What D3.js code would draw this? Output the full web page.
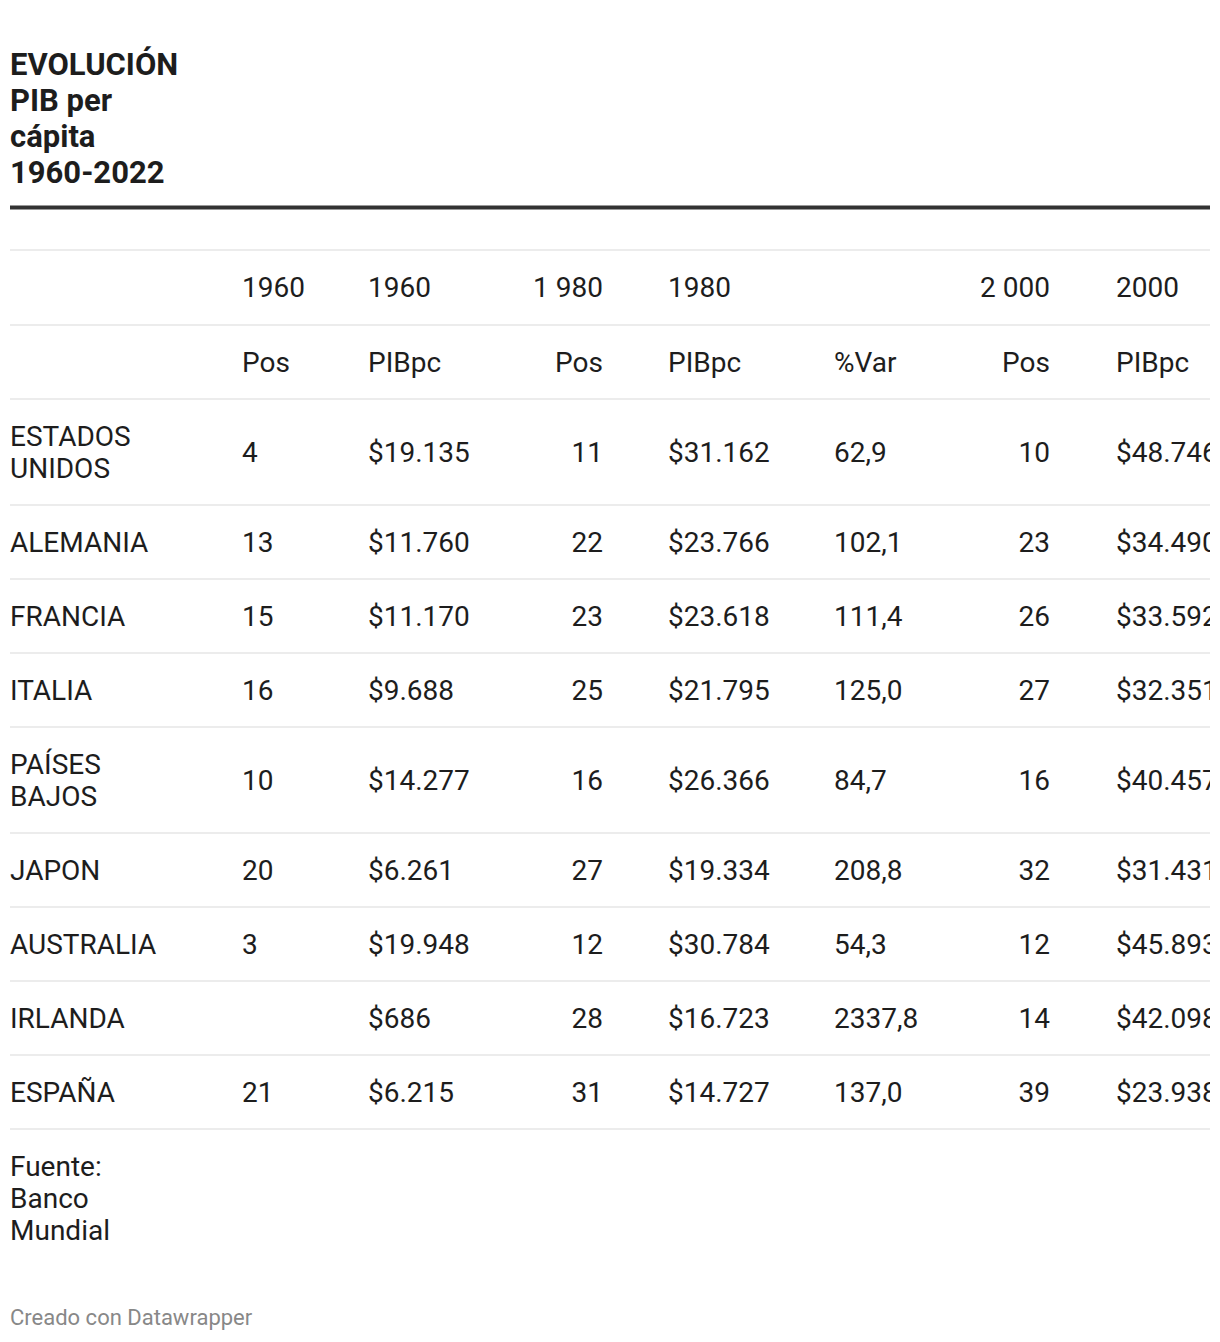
<!DOCTYPE html>
<html>
<head>
<meta charset="utf-8">
<script src="https://cdn.jsdelivr.net/npm/d3@7"></script>
<style>
  html, body { margin: 0; padding: 0; background: #fff; }
  svg { display: block; font-family: Roboto, "Noto Sans", sans-serif; }
</style>
</head>
<body>
<div id="chart"></div>
<script>
// ---------- DATA ----------
const titleLines = ["EVOLUCIÓN", "PIB per", "cápita", "1960-2022"];
const countries = ["ESTADOS UNIDOS", "ALEMANIA", "FRANCIA", "ITALIA", "PAÍSES BAJOS", "JAPON", "AUSTRALIA", "IRLANDA", "ESPAÑA"];
const pos1960 = [4, 13, 15, 16, 10, 20, 3, null, 21];
const pib1960 = [19135, 11760, 11170, 9688, 14277, 6261, 19948, 686, 6215];
const pos1980 = [11, 22, 23, 25, 16, 27, 12, 28, 31];
const pib1980 = [31162, 23766, 23618, 21795, 26366, 19334, 30784, 16723, 14727];
const varPct = [62.9, 102.1, 111.4, 125.0, 84.7, 208.8, 54.3, 2337.8, 137.0];
const pos2000 = [10, 23, 26, 27, 16, 32, 12, 14, 39];
const pib2000 = [48746, 34490, 33592, 32351, 40457, 31431, 45893, 42098, 23938];
const headerRow1 = ["", "1960", "1960", "1 980", "1980", "", "2 000", "2000"];
const headerRow2 = ["", "Pos", "PIBpc", "Pos", "PIBpc", "%Var", "Pos", "PIBpc"];
const sourceLines = ["Fuente:", "Banco", "Mundial"];
const credit = "Creado con Datawrapper";

// ---------- LAYOUT ----------
const W = 1220, H = 1342;
const left = 10, right = 1210;
const fontSize = 28, lineH = 32, rowH = 74;
const textColor = "#1d1d1d";
const ruleColor = "#ececec";

const locale = d3.formatLocale({ decimal: ",", thousands: ".", grouping: [3], currency: ["$", ""] });
const fMoney = locale.format("$,");
const fVar = locale.format(".1f");
const fInt = d => d == null ? "" : String(d);

const colKeys = ["label", "p60", "g60", "p80", "g80", "var", "p00", "g00"];
const colX = d3.scaleOrdinal().domain(colKeys).range([10, 242, 368, 603, 668, 834, 1050, 1116]);
const colAnchor = d3.scaleOrdinal().domain(colKeys).range(["start", "start", "start", "end", "start", "start", "end", "start"]);

const rows = countries.map((c, i) => ({
  label: c,
  p60: fInt(pos1960[i]),
  g60: fMoney(pib1960[i]),
  p80: fInt(pos1980[i]),
  g80: fMoney(pib1980[i]),
  var: fVar(varPct[i]),
  p00: fInt(pos2000[i]),
  g00: fMoney(pib2000[i])
}));

const svg = d3.select("#chart").append("svg").attr("width", W).attr("height", H);

svg.append("defs").append("clipPath").attr("id", "clip")
  .append("rect").attr("x", 0).attr("y", 0).attr("width", right).attr("height", H);

// Title
svg.append("g").selectAll("text").data(titleLines).join("text")
  .attr("x", left).attr("y", (d, i) => 75 + i * 36)
  .attr("font-size", 31).attr("font-weight", 700).attr("fill", textColor)
  .text(d => d);

// thick rule
svg.append("rect").attr("x", left).attr("y", 205.5).attr("width", right - left).attr("height", 4).attr("fill", "#333");

// measure & wrap labels
const measure = svg.append("text").attr("font-size", fontSize).attr("visibility", "hidden");
function wrap(str, maxW) {
  const words = str.split(" ");
  const lines = [];
  let cur = "";
  words.forEach(w => {
    const t = cur ? cur + " " + w : w;
    measure.text(t);
    if (cur && measure.node().getComputedTextLength() > maxW) { lines.push(cur); cur = w; }
    else cur = t;
  });
  if (cur) lines.push(cur);
  return lines;
}
rows.forEach(r => { r.lines = wrap(r.label, 165); });
measure.remove();

const table = svg.append("g").attr("clip-path", "url(#clip)");

let y = 399;
const ruleYs = [250, 325, 399];
const headerCenters = [287.5, 362];
rows.forEach(r => {
  const h = rowH + (r.lines.length - 1) * lineH;
  r.cy = y + h / 2;
  y += h;
  ruleYs.push(y);
});

table.append("g").selectAll("rect").data(ruleYs).join("rect")
  .attr("x", left).attr("width", right - left)
  .attr("y", d => d - 1).attr("height", 2).attr("fill", ruleColor);

// headers
[headerRow1, headerRow2].forEach((hr, hi) => {
  table.append("g").selectAll("text").data(colKeys.map((k, j) => ({ k, t: hr[j] }))).join("text")
    .attr("x", d => colX(d.k)).attr("y", headerCenters[hi])
    .attr("dy", "0.35em")
    .attr("text-anchor", d => colAnchor(d.k))
    .attr("font-size", fontSize).attr("fill", textColor)
    .text(d => d.t);
});

// body
const rowG = table.append("g").selectAll("g").data(rows).join("g");
rowG.each(function (r) {
  const g = d3.select(this);
  const n = r.lines.length;
  g.selectAll("text.lbl").data(r.lines).join("text").attr("class", "lbl")
    .attr("x", colX("label"))
    .attr("y", (d, i) => r.cy + (i - (n - 1) / 2) * lineH)
    .attr("dy", "0.35em").attr("font-size", fontSize).attr("fill", textColor)
    .text(d => d);
  g.selectAll("text.val").data(colKeys.slice(1)).join("text").attr("class", "val")
    .attr("x", k => colX(k)).attr("y", r.cy).attr("dy", "0.35em")
    .attr("text-anchor", k => colAnchor(k))
    .attr("font-size", fontSize).attr("fill", textColor)
    .text(k => r[k]);
});

// source
svg.append("g").selectAll("text").data(sourceLines).join("text")
  .attr("x", left).attr("y", (d, i) => 1176 + i * 32)
  .attr("font-size", fontSize).attr("fill", textColor).text(d => d);

svg.append("text").attr("x", left).attr("y", 1325)
  .attr("font-size", 22).attr("fill", "#888").text(credit);
</script>
</body>
</html>
